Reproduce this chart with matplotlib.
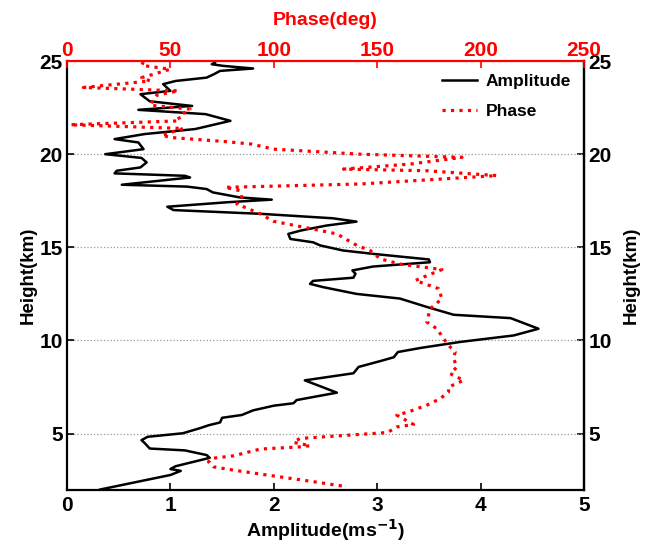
import matplotlib
matplotlib.use("Agg")
import matplotlib.pyplot as plt
from matplotlib.lines import Line2D

plt.rcParams['font.family'] = ['Liberation Sans', 'DejaVu Sans']
plt.rcParams['font.weight'] = 'bold'
plt.rcParams['axes.labelweight'] = 'bold'

# amplitude profile (ms-1) vs height (km)
amp_height = [2.0, 2.78, 3.0, 3.1, 3.25, 3.7, 3.85, 4.1, 4.2, 4.5, 4.65, 4.83, 5.02, 5.3,
              5.45, 5.6, 5.85, 6.0, 6.25, 6.5, 6.63, 6.8, 7.2, 7.86, 8.24, 8.58, 8.94,
              9.1, 9.38, 9.6, 9.92, 10.27, 10.63, 11.2, 11.38, 11.8, 12.25, 12.5, 12.86,
              13.04, 13.2, 13.37, 13.58, 13.76, 13.97, 14.2, 14.35, 14.65, 14.83, 15.1,
              15.27, 15.45, 15.72, 15.9, 16.17, 16.38, 16.56, 16.8, 17.0, 17.18, 17.42,
              17.56, 17.68, 17.95, 18.13, 18.26, 18.36, 18.75, 18.84, 18.97, 19.11,
              19.29, 19.56, 19.8, 20.0, 20.27, 20.63, 20.81, 21.08, 21.35, 21.79, 22.15,
              22.38, 22.59, 22.84, 23.22, 23.4, 23.76, 23.93, 24.11, 24.29, 24.47, 24.6,
              24.74, 24.83, 24.92]
amplitude = [0.32, 1.00, 1.10, 1.00, 1.05, 1.38, 1.35, 1.14, 0.80, 0.75, 0.72, 0.78, 1.12,
             1.29, 1.37, 1.48, 1.50, 1.69, 1.80, 2.00, 2.19, 2.22, 2.61, 2.30, 2.77, 2.82,
             3.06, 3.16, 3.20, 3.42, 3.80, 4.32, 4.56, 4.29, 3.74, 3.48, 3.22, 2.80, 2.48,
             2.35, 2.38, 2.77, 2.79, 2.76, 2.96, 3.51, 3.50, 2.96, 2.67, 2.45, 2.38, 2.16,
             2.14, 2.26, 2.51, 2.80, 2.57, 1.87, 1.03, 0.97, 1.55, 1.98, 1.67, 1.41, 1.35,
             1.16, 0.53, 1.19, 1.14, 0.46, 0.48, 0.71, 0.77, 0.72, 0.37, 0.74, 0.69, 0.46,
             0.75, 1.24, 1.58, 1.34, 0.69, 1.21, 0.80, 0.71, 1.00, 0.93, 1.05, 1.35, 1.42,
             1.48, 1.80, 1.51, 1.40, 1.43]

# phase profile (deg) vs height (km)
phase_height = [2.19, 2.42, 2.78, 3.04, 3.22, 3.49, 3.67, 3.81, 4.17, 4.29, 4.35, 4.53,
                4.65, 4.74, 5.06, 5.36, 5.49, 5.99, 6.2, 6.53, 6.88, 7.24, 7.5, 7.86, 8.22,
                8.58, 9.03, 9.38, 9.74, 10.1, 10.63, 10.99, 11.35, 11.7, 12.24, 12.78,
                13.22, 13.81, 14.1, 14.38, 14.83, 15.1, 15.72, 15.94, 16.4, 16.8, 17.33,
                17.68, 18.04, 18.22, 18.4, 18.85, 19.11, 19.2, 19.47, 19.83, 20.0, 20.27,
                20.54, 20.67, 20.9, 21.02, 21.38, 21.58, 21.79, 22.02, 22.42, 22.63,
                22.95, 23.17, 23.4, 23.58, 23.93, 24.11, 24.29, 24.56, 24.77, 24.95]
phase = [132.9, 119.2, 96.6, 80.5, 70.8, 68.4, 70.0, 80.5, 93.4, 112.7, 117.6, 109.5,
         111.1, 112.7, 155.0, 159.5, 167.6, 159.5, 166.0, 174.0, 180.5, 184.5, 184.5,
         191.8, 185.3, 188.6, 186.9, 187.7, 184.5, 182.1, 178.9, 174.0, 174.8, 175.6,
         181.3, 179.7, 168.4, 181.3, 161.1, 151.5, 146.6, 140.2, 130.5, 120.8, 99.8,
         93.4, 82.1, 84.5, 83.7, 76.4, 141.8, 207.9, 174.0, 133.7, 166.0, 191.0, 141.8,
         99.8, 89.4, 77.3, 49.8, 45.8, 56.3, 1.5, 54.7, 53.9, 59.5, 40.2, 41.8, 43.4,
         53.9, 7.9, 40.2, 36.1, 41.8, 49.8, 36.1, 36.9]

height_ticks = [5, 10, 15, 20, 25]

fig = plt.figure(figsize=(6.52, 5.45), dpi=100)
ax = fig.add_axes([0.1028, 0.1018, 0.7929, 0.7862])

ax.plot(amplitude, amp_height, color='black', lw=1.8)
ax.set_xlim(0, 5)
ax.set_ylim(2, 25)
ax.set_yticks(height_ticks)
ax.set_xlabel('Amplitude(ms$^{\\mathbf{-1}}$)', fontsize=14, labelpad=1)
ax.set_ylabel('Height(km)', fontsize=13.5, labelpad=2)
ax.yaxis.grid(True, linestyle=':', color='#999999', lw=0.9)
ax.tick_params(axis='both', direction='in', length=5, width=1.2, labelsize=15)
ax.tick_params(axis='x', pad=5)
ax.tick_params(axis='y', pad=3)
ax.spines['top'].set_visible(False)
for s in ['left', 'bottom', 'right']:
    ax.spines[s].set_linewidth(1.6)

ax2 = ax.twiny()
ax2.plot(phase, phase_height, color='red', ls=':', lw=2.3)
ax2.set_xlim(0, 250)
ax2.set_xlabel('Phase(deg)', fontsize=14, color='red', labelpad=11)
ax2.tick_params(axis='x', direction='in', length=5, width=1.2, labelsize=15,
                colors='red', pad=1)
ax2.spines['top'].set_color('red')
ax2.spines['top'].set_linewidth(1.6)
for s in ['left', 'bottom', 'right']:
    ax2.spines[s].set_visible(False)

sec = ax.secondary_yaxis('right')
sec.set_yticks(height_ticks)
sec.tick_params(direction='in', length=5, width=1.2, labelsize=15, pad=3)
sec.set_ylabel('Height(km)', fontsize=13.5, labelpad=8)
sec.spines['right'].set_linewidth(1.6)

handles = [Line2D([], [], color='black', lw=1.8),
           Line2D([], [], color='red', ls=':', lw=2.3)]
ax2.legend(handles, ['Amplitude', 'Phase'], loc='upper right', frameon=False,
           prop={'size': 12.5, 'weight': 'bold'}, handlelength=2.0,
           handletextpad=0.5, bbox_to_anchor=(1.005, 1.007), labelspacing=0.85)

fig.savefig('out.png', dpi=100)
